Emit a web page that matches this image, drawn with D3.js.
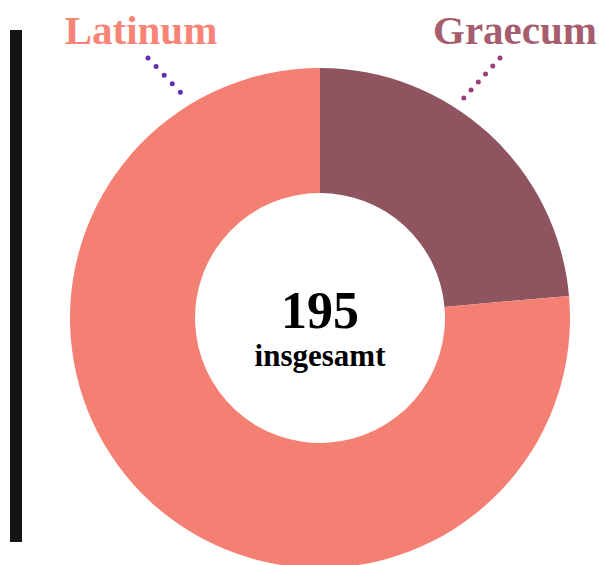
<!DOCTYPE html>
<html>
<head>
<meta charset="utf-8">
<script src="https://cdn.jsdelivr.net/npm/d3@7"></script>
<style>
  body { margin: 0; background: #fff; }
  text { font-family: "Liberation Serif", "DejaVu Serif", serif; font-weight: bold; }
</style>
</head>
<body>
<svg width="599" height="565"></svg>
<script>
const categories = ['Graecum', 'Latinum'];
const counts = [46, 149];
const sliceColors = ['#8e5560', '#f47f73'];
const labelColors = ['#a65d6d', '#f88478'];
const dotColors = ['#9a3e7a', '#6a2db0'];
const totalLabel = 'insgesamt';

const data = categories.map((c, i) => ({ name: c, value: counts[i] }));
const total = d3.sum(counts);

const svg = d3.select('svg');
const cx = 320, cy = 318;
const outerR = 250, innerR = 125;

// black bar on the left
svg.append('rect')
    .attr('x', 10).attr('y', 30)
    .attr('width', 12).attr('height', 512)
    .attr('fill', '#141414');

const pie = d3.pie().sort(null).value(d => d.value);
const arc = d3.arc().innerRadius(innerR).outerRadius(outerR);

const g = svg.append('g')
    .attr('transform', `translate(${cx},${cy})`);

g.selectAll('path').data(pie(data))
  .enter().append('path')
    .attr('d', arc)
    .attr('fill', (d, i) => sliceColors[i]);

g.append('text')
    .attr('text-anchor', 'middle')
    .attr('y', 10)
    .attr('font-size', 52)
    .attr('fill', '#000')
    .text(total);

g.append('text')
    .attr('text-anchor', 'middle')
    .attr('y', 48)
    .attr('font-size', 31)
    .attr('fill', '#000')
    .text(totalLabel);

// labels with dotted leaders
const labelPos = [
  { x: 515, y: 44, line: [[500, 58], [463, 99]] },
  { x: 141, y: 44, line: [[148, 58], [181, 93]] }
];

data.forEach((d, i) => {
  const p = labelPos[i];
  svg.append('text')
      .attr('x', p.x).attr('y', p.y)
      .attr('text-anchor', 'middle')
      .attr('font-size', 41)
      .attr('fill', labelColors[i])
      .text(d.name);

  svg.append('path')
      .attr('d', d3.line()(p.line))
      .attr('stroke', dotColors[i])
      .attr('stroke-width', 5)
      .attr('stroke-linecap', 'round')
      .attr('stroke-dasharray', i === 0 ? '0,10.8' : '0,11.8')
      .attr('fill', 'none');
});
</script>
</body>
</html>
